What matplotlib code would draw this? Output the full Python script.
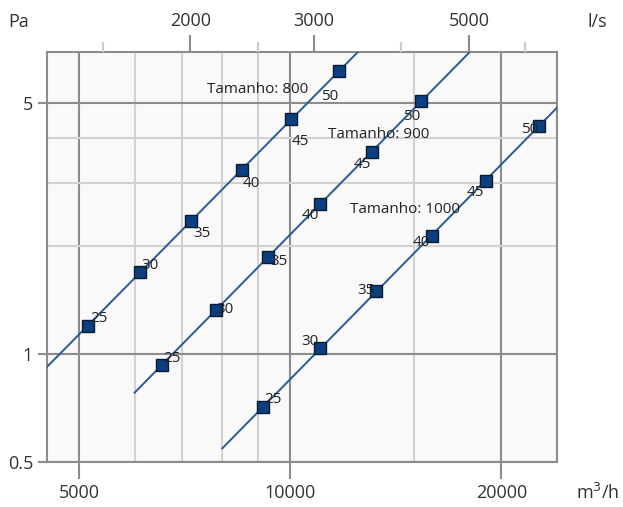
import numpy as np
import matplotlib
matplotlib.use("Agg")
import matplotlib.pyplot as plt
from matplotlib.ticker import NullFormatter

plt.rcParams["font.family"] = ["Open Sans", "DejaVu Sans"]

# Pressure drop (Pa) versus air flow (m3/h) for three damper sizes,
# with the blade-setting label shown at each operating point.
point_labels = [25, 30, 35, 40, 45, 50]

flow_800 = [5150, 6100, 7220, 8540, 10030, 11750]
pa_800 = [1.20, 1.69, 2.35, 3.26, 4.51, 6.17]

flow_900 = [6560, 7840, 9300, 11040, 13060, 15380]
pa_900 = [0.93, 1.33, 1.87, 2.62, 3.66, 5.07]

flow_1000 = [9150, 11040, 13270, 15900, 18990, 22610]
pa_1000 = [0.71, 1.04, 1.50, 2.14, 3.04, 4.32]

# flow span of each characteristic curve (m3/h)
range_800 = [4000, 13500]
range_900 = [6000, 19000]
range_1000 = [8000, 24000]

x_major = [5000, 10000, 20000]
x_minor = [6000, 7000, 8000, 9000, 15000]
y_major = [0.5, 1, 5]
y_minor = [2, 3, 4]
top_major = [2000, 3000, 5000]
top_minor = [1500, 2500, 4000, 6000]

series = [
    ("Tamanho: 800", flow_800, pa_800, range_800),
    ("Tamanho: 900", flow_900, pa_900, range_900),
    ("Tamanho: 1000", flow_1000, pa_1000, range_1000),
]

# label placement (pixels, text centre relative to marker; y downwards)
label_offsets = [
    [(10.5, -9.5), (10.5, -9), (10.5, 11), (9, 12), (9, 20), (-10, 23.5)],
    [(10, -8.5), (9, -2), (10.5, 2.5), (-10, 10), (-9.5, 10.5), (-10, 13.5)],
    [(9.5, -10), (-10.5, -8.5), (-10.5, -2.5), (-10.5, 5), (-10, 10), (-9.5, 1)],
]
title_pos = [(7600, 5.33), (11300, 4.0), (12180, 2.48)]

GRID_DARK = "#8c8c8c"
GRID_LIGHT = "#d2d2d2"
TEXT = "#333333"
LINE = "#2a5a95"
MARK = "#0b3f80"

W, H = 623, 507
fig = plt.figure(figsize=(W / 100, H / 100), dpi=100)
ax = fig.add_axes([47 / W, 1 - 462 / H, 510 / W, 410 / H])
ax.set_xscale("log")
ax.set_yscale("log")
ax.set_xlim(4500, 24000)
ax.set_ylim(0.5, 6.95)
ax.set_facecolor("#f9f9f9")
ax.set_axisbelow(True)

ax.set_xticks(x_major, labels=[str(v) for v in x_major])
ax.set_xticks(x_minor, minor=True)
ax.set_yticks(y_major, labels=[f"{v:g}" for v in y_major])
ax.set_yticks(y_minor, minor=True)
ax.xaxis.set_minor_formatter(NullFormatter())
ax.yaxis.set_minor_formatter(NullFormatter())

ax.tick_params(axis="x", which="major", length=12.5, width=1.5, color=GRID_DARK,
               labelsize=13, labelcolor=TEXT, pad=3)
ax.tick_params(axis="y", which="major", length=6.5, width=1.5, color=GRID_DARK,
               labelsize=13, labelcolor=TEXT, pad=3.5)
ax.tick_params(which="minor", length=0)
ax.tick_params(top=False, right=False)

ax.grid(which="major", color=GRID_DARK, lw=1.5)
ax.grid(which="minor", color=GRID_LIGHT, lw=1.5)
for s in ax.spines.values():
    s.set_color(GRID_DARK)
    s.set_linewidth(1.5)

# l/s scale on top
ax2 = ax.twiny()
ax2.set_xscale("log")
ax2.set_xlim(4500 / 3.6, 24000 / 3.6)
ax2.set_xticks(top_major, labels=[str(v) for v in top_major])
ax2.set_xticks(top_minor, minor=True)
ax2.xaxis.set_minor_formatter(NullFormatter())
ax2.tick_params(which="major", length=12.5, width=1.5, color=GRID_DARK,
                labelsize=13, labelcolor=TEXT, pad=3)
ax2.tick_params(which="minor", length=7.2, width=1.5, color="#cccccc")
for s in ax2.spines.values():
    s.set_visible(False)

for (name, q, p, rng), offs, tpos in zip(series, label_offsets, title_pos):
    q = np.asarray(q, float)
    p = np.asarray(p, float)
    slope, icpt = np.polyfit(np.log10(q), np.log10(p), 1)
    qq = np.geomspace(rng[0], rng[1], 50)
    ax.plot(qq, 10 ** (icpt + slope * np.log10(qq)), color=LINE, lw=1.4, zorder=3)
    ax.plot(q, p, ls="none", marker="s", ms=8.6, mfc=MARK, mec="#0a1a30",
            mew=1.0, zorder=4)
    for qi, pi, lab, (dx, dy) in zip(q, p, point_labels, offs):
        ax.annotate(str(lab), (qi, pi), xytext=(dx, -(dy + 5.5)),
                    textcoords="offset pixels", ha="center", va="baseline",
                    fontsize=11, color="#222222", zorder=5)
    ax.text(tpos[0], tpos[1], name, ha="left", va="baseline", fontsize=11,
            color="#222222", zorder=5)

fig.text(19 / W, 1 - 22 / H, "Pa", ha="center", va="center", fontsize=13, color=TEXT)
fig.text(597 / W, 1 - 22 / H, "l/s", ha="center", va="center", fontsize=13, color=TEXT)
fig.text(576 / W, 1 - 493 / H, "m$^3$/h", ha="left", va="center", fontsize=13, color=TEXT)

fig.savefig("out.png", dpi=100, facecolor="white")
